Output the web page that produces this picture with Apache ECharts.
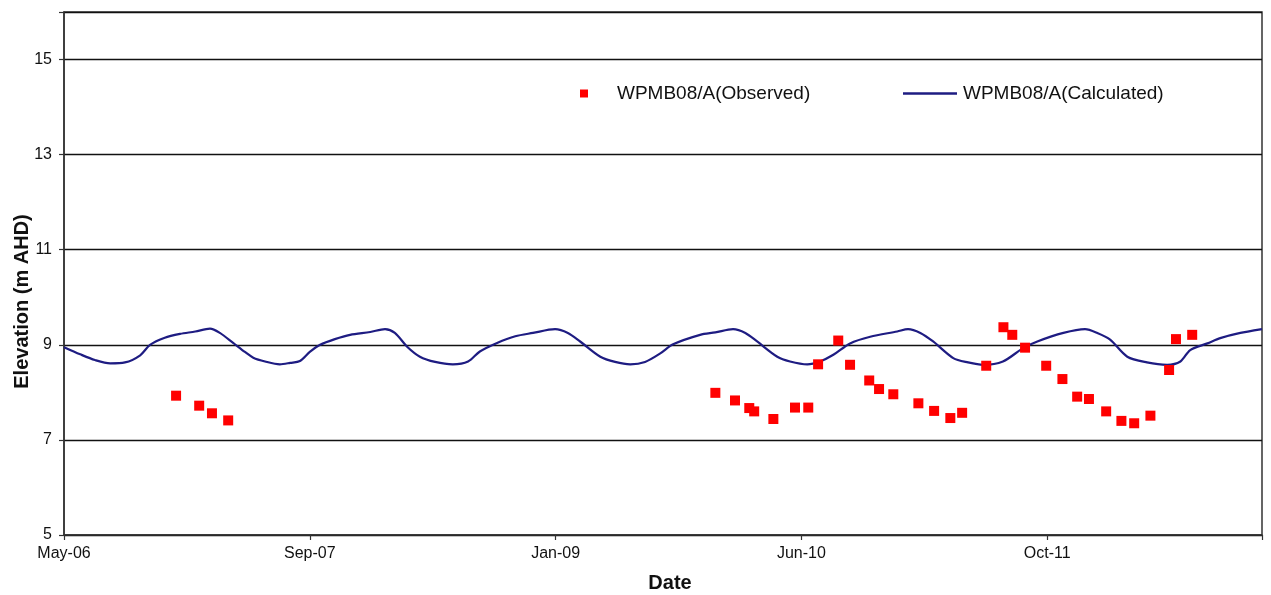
<!DOCTYPE html>
<html>
<head>
<meta charset="utf-8">
<script src="https://cdn.jsdelivr.net/npm/echarts@6/dist/echarts.min.js"></script>
<style>
  html, body { margin: 0; padding: 0; background: #ffffff; }
  #chart { width: 1271px; height: 595px; }
</style>
</head>
<body>
<div id="chart"></div>
<script>
// Groundwater elevation at bore WPMB08/A (m AHD)
const calcDates = [
  '2006-05-01','2006-06-03','2006-07-03','2006-08-03','2006-09-02','2006-10-03','2006-10-23','2006-11-22','2006-12-23',
  '2007-01-23','2007-02-22','2007-03-14','2007-04-10','2007-05-04','2007-05-21','2007-06-14','2007-07-14','2007-08-04',
  '2007-08-24','2007-09-13','2007-10-04','2007-11-03','2007-12-04','2008-01-14','2008-02-13','2008-03-04','2008-03-29',
  '2008-04-24','2008-05-25','2008-06-30','2008-07-31','2008-08-24','2008-09-28','2008-11-04','2008-12-10','2009-01-24',
  '2009-02-19','2009-03-16','2009-04-26','2009-05-26','2009-06-26','2009-07-26','2009-08-26','2009-09-21','2009-11-15',
  '2009-12-16','2010-01-21','2010-02-15','2010-03-11','2010-04-21','2010-05-17','2010-06-21','2010-07-17','2010-08-13',
  '2010-09-16','2010-10-27','2010-12-21','2011-01-12','2011-02-06','2011-03-04','2011-04-14','2011-05-14','2011-06-14',
  '2011-07-24','2011-09-03','2011-10-02','2011-11-24','2012-01-07','2012-02-01','2012-02-27','2012-04-02','2012-05-12',
  '2012-06-22','2012-07-19','2012-08-08','2012-09-12','2012-10-08','2012-11-18','2013-01-01'
];
const calcValues = [
  8.95, 8.80, 8.68, 8.61, 8.63, 8.78, 9.00, 9.15, 9.23,
  9.28, 9.34, 9.25, 9.04, 8.85, 8.73, 8.65, 8.59, 8.62,
  8.66, 8.85, 9.00, 9.12, 9.21, 9.27, 9.33, 9.25, 8.96,
  8.75, 8.64, 8.59, 8.65, 8.86, 9.04, 9.18, 9.25, 9.33,
  9.25, 9.07, 8.75, 8.64, 8.59, 8.64, 8.82, 9.01, 9.21,
  9.26, 9.33, 9.25, 9.07, 8.75, 8.65, 8.59, 8.65, 8.79,
  9.03, 9.17, 9.28, 9.33, 9.25, 9.07, 8.72, 8.63, 8.58,
  8.65, 8.93, 9.07, 9.25, 9.33, 9.25, 9.11, 8.75, 8.63,
  8.58, 8.65, 8.89, 9.03, 9.14, 9.25, 9.33
];

const obsDates = [
  '2006-12-15','2007-01-31','2007-02-26','2007-03-31',
  '2009-12-16','2010-01-25','2010-02-23','2010-03-05','2010-04-13','2010-05-27','2010-06-23','2010-07-13',
  '2010-08-23','2010-09-16','2010-10-25','2010-11-14','2010-12-13','2011-02-02','2011-03-06','2011-04-08',
  '2011-05-02','2011-06-20','2011-07-25','2011-08-12','2011-09-07','2011-10-20','2011-11-22','2011-12-22',
  '2012-01-15','2012-02-19','2012-03-21','2012-04-16','2012-05-19','2012-06-26','2012-07-10','2012-08-12'
];
const obsValues = [
  7.93, 7.72, 7.56, 7.41,
  7.99, 7.83, 7.67, 7.60, 7.44, 7.68, 7.68, 8.59,
  9.09, 8.58, 8.25, 8.07, 7.96, 7.77, 7.61, 7.46,
  7.57, 8.56, 9.37, 9.21, 8.94, 8.56, 8.28, 7.91,
  7.86, 7.60, 7.40, 7.35, 7.51, 8.47, 9.12, 9.21
];

const seriesNames = ['WPMB08/A(Observed)', 'WPMB08/A(Calculated)'];
const monthNames = ['Jan','Feb','Mar','Apr','May','Jun','Jul','Aug','Sep','Oct','Nov','Dec'];

// Date axis runs in 500-day steps from the first day shown
const DAY = 86400000;
const xStart = Date.parse('2006-05-01');
const xEnd = Date.parse('2013-01-01');
const yMin = 5, yMax = 16, yStep = 2;

const toPoints = (dates, values) => dates.map((d, i) => [Date.parse(d), values[i]]);

const FONT = "'Liberation Sans', Arial, sans-serif";
const OBS_COLOR = '#ff0000';
const CALC_COLOR = '#1e1c82';

const chart = echarts.init(document.getElementById('chart'), null, { renderer: 'canvas' });
chart.setOption({
  backgroundColor: '#ffffff',
  animation: false,
  textStyle: { fontFamily: FONT },
  grid: {
    left: 64, right: 9, top: 12, bottom: 60,
    containLabel: false,
    outerBoundsMode: 'none',
    show: true,
    borderColor: '#333333',
    borderWidth: 1.5,
    backgroundColor: 'transparent'
  },
  legend: [
    {
      data: [seriesNames[0]],
      left: 575, top: 79,
      itemWidth: 8, itemHeight: 8,
      textStyle: { fontFamily: FONT, fontSize: 19, color: '#111', padding: [0, 0, 0, 24] }
    },
    {
      data: [{ name: seriesNames[1], icon: 'rect' }],
      left: 898, top: 79,
      itemWidth: 54, itemHeight: 2.4,
      itemStyle: { color: CALC_COLOR },
      textStyle: { fontFamily: FONT, fontSize: 19, color: '#111', padding: [0, 0, 0, 1] }
    }
  ],
  xAxis: {
    type: 'value',
    min: xStart,
    max: xEnd,
    interval: 500 * DAY,
    name: 'Date',
    nameLocation: 'middle',
    nameGap: 38,
    nameMoveOverlap: false,
    nameTextStyle: { fontFamily: FONT, fontSize: 20, fontWeight: 'bold', color: '#111', padding: [0, 0, 0, 14] },
    axisLine: { show: true, lineStyle: { color: '#333333', width: 1.5 } },
    axisTick: { show: true, length: 5, lineStyle: { color: '#333333', width: 1.2 } },
    axisLabel: {
      fontFamily: FONT, fontSize: 16, color: '#111', margin: 11,
      showMinLabel: true,
      formatter: function (v) {
        if (v >= xEnd) return '';
        const d = new Date(v);
        return monthNames[d.getUTCMonth()] + '-' + String(d.getUTCFullYear()).slice(2);
      }
    },
    splitLine: { show: false }
  },
  yAxis: {
    type: 'value',
    min: yMin,
    max: yMax,
    interval: yStep,
    name: 'Elevation (m AHD)',
    nameLocation: 'middle',
    nameGap: 32,
    nameMoveOverlap: false,
    nameTextStyle: { fontFamily: FONT, fontSize: 20, fontWeight: 'bold', color: '#111', padding: [0, 56, 0, 0] },
    axisLine: { show: true, lineStyle: { color: '#333333', width: 1.5 } },
    axisTick: { show: true, length: 5, lineStyle: { color: '#333333', width: 1.2 } },
    axisLabel: {
      fontFamily: FONT, fontSize: 16, color: '#111', margin: 12,
      formatter: function (v) { return v >= yMax ? '' : String(v); }
    },
    splitLine: { show: true, lineStyle: { color: '#111111', width: 1.3 } }
  },
  series: [
    {
      name: seriesNames[0],
      type: 'scatter',
      data: toPoints(obsDates, obsValues),
      symbol: 'rect',
      symbolSize: 10,
      itemStyle: { color: OBS_COLOR, opacity: 1 },
      z: 3
    },
    {
      name: seriesNames[1],
      type: 'line',
      data: toPoints(calcDates, calcValues),
      symbol: 'none',
      showSymbol: false,
      smooth: 0.3,
      lineStyle: { color: CALC_COLOR, width: 2.2 },
      itemStyle: { color: CALC_COLOR },
      z: 2
    }
  ]
});
</script>
</body>
</html>
